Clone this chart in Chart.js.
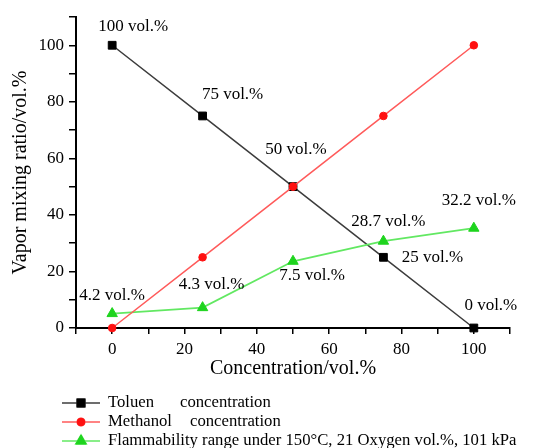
<!DOCTYPE html>
<html>
<head>
<meta charset="utf-8">
<title>Vapor mixing ratio</title>
<script src="https://cdn.jsdelivr.net/npm/chart.js@4.4.1/dist/chart.umd.min.js"></script>
<style>
    html, body { margin: 0; padding: 0; background: #fff; }
    #wrap { width: 541px; height: 448px; }
</style>
</head>
<body>
<div id="wrap"><canvas id="chart" width="541" height="448"></canvas></div>
<script>
(function () {
    'use strict';

    // values
    var concentration = [0, 25, 50, 75, 100];
    var toluene = [100, 75, 50, 25, 0];
    var methanol = [0, 25, 50, 75, 100];
    var flammability = [5.1, 7.2, 23.6, 30.7, 35.3];

    var tolueneLabels = ['100 vol.%', '75 vol.%', '50 vol.%', '25 vol.%', '0 vol.%'];
    var flammabilityLabels = ['4.2 vol.%', '4.3 vol.%', '7.5 vol.%', '28.7 vol.%', '32.2 vol.%'];

    var seriesNames = [
        ['Toluen', 'concentration'],
        ['Methanol', 'concentration'],
        ['Flammability range under 150\u00b0C, 21 Oxygen vol.%, 101 kPa']
    ];

    var serif = "'Liberation Serif', 'Times New Roman', serif";

    // pixel offsets of the value labels from their points
    var tolueneLabelOffsets = [[21, -19], [30, -21], [3, -37], [49, 0], [17, -22]];
    var flammabilityLabelOffsets = [[0, -18], [9, -23], [19, 14], [5, -20], [5, -28]];

    function toPoints(xs, ys) {
        return xs.map(function (x, i) {
            return { x: x, y: ys[i] };
        });
    }

    var valueLabelPlugin = {
        id: 'valueLabels',
        afterDatasetsDraw: function (chart) {
            var ctx = chart.ctx;
            var xScale = chart.scales.x;
            var yScale = chart.scales.y;
            ctx.save();
            ctx.font = '17px ' + serif;
            ctx.fillStyle = '#000';
            ctx.textAlign = 'center';
            ctx.textBaseline = 'middle';
            concentration.forEach(function (c, i) {
                var px = xScale.getPixelForValue(c);
                ctx.fillText(tolueneLabels[i],
                    px + tolueneLabelOffsets[i][0],
                    yScale.getPixelForValue(toluene[i]) + tolueneLabelOffsets[i][1]);
                ctx.fillText(flammabilityLabels[i],
                    px + flammabilityLabelOffsets[i][0],
                    yScale.getPixelForValue(flammability[i]) + flammabilityLabelOffsets[i][1]);
            });
            ctx.restore();
        }
    };

    var legendPlugin = {
        id: 'bottomLegend',
        afterDraw: function (chart) {
            var ctx = chart.ctx;
            ctx.save();
            ctx.font = '16.7px ' + serif;
            ctx.textBaseline = 'middle';
            ctx.textAlign = 'left';
            chart.data.datasets.forEach(function (ds, i) {
                var y = 403 + i * 19;
                ctx.strokeStyle = ds.borderColor;
                ctx.lineWidth = 1.6;
                ctx.beginPath();
                ctx.moveTo(62, y);
                ctx.lineTo(100, y);
                ctx.stroke();
                Chart.helpers.drawPoint(ctx, {
                    pointStyle: ds.pointStyle,
                    radius: ds.pointRadius,
                    rotation: 0,
                    borderWidth: 1
                }, 81, y);
                ctx.fillStyle = ds.pointBackgroundColor;
                ctx.strokeStyle = ds.pointBorderColor;
                ctx.lineWidth = 1;
                ctx.fill();
                ctx.stroke();
                ctx.fillStyle = '#000';
                var parts = seriesNames[i];
                ctx.fillText(parts[0], 108, y);
                if (parts[1]) {
                    ctx.fillText(parts[1], i === 0 ? 180 : 190, y);
                }
            });
            ctx.restore();
        }
    };

    new Chart(document.getElementById('chart'), {
        type: 'line',
        data: {
            datasets: [{
                label: seriesNames[0].join(' '),
                data: toPoints(concentration, toluene),
                order: 2,
                borderColor: '#3c3c3c',
                borderWidth: 1.5,
                pointStyle: 'rect',
                pointRadius: 5.5,
                pointBackgroundColor: '#000',
                pointBorderColor: '#000',
                pointBorderWidth: 1
            }, {
                label: seriesNames[1].join(' '),
                data: toPoints(concentration, methanol),
                order: 0,
                borderColor: '#ff5a5a',
                borderWidth: 1.5,
                pointStyle: 'circle',
                pointRadius: 3.8,
                pointBackgroundColor: '#ff1010',
                pointBorderColor: '#ff1010',
                pointBorderWidth: 1
            }, {
                label: seriesNames[2][0],
                data: toPoints(concentration, flammability),
                order: 1,
                borderColor: '#62e862',
                borderWidth: 1.8,
                pointStyle: 'triangle',
                pointRadius: 6,
                pointBackgroundColor: '#1ed41e',
                pointBorderColor: '#1ed41e',
                pointBorderWidth: 1
            }]
        },
        options: {
            responsive: false,
            devicePixelRatio: 1,
            animation: false,
            clip: false,
            layout: {
                padding: { top: 17, right: 31, bottom: 67, left: 0 }
            },
            plugins: {
                legend: { display: false },
                tooltip: { enabled: false }
            },
            scales: {
                x: {
                    type: 'linear',
                    min: -10,
                    max: 110,
                    afterFit: function (scale) {
                        scale.height = 53;
                    },
                    border: { display: true, color: '#000', width: 2 },
                    grid: {
                        display: true,
                        drawOnChartArea: false,
                        drawTicks: true,
                        tickLength: 6,
                        color: '#000',
                        lineWidth: 1.5
                    },
                    ticks: {
                        stepSize: 10,
                        autoSkip: false,
                        maxRotation: 0,
                        padding: 5,
                        color: '#000',
                        font: { family: serif, size: 17 },
                        callback: function (v) {
                            return (v >= 0 && v <= 100 && v % 20 === 0) ? String(v) : '';
                        }
                    },
                    title: {
                        display: true,
                        text: 'Concentration/vol.%',
                        color: '#000',
                        font: { family: serif, size: 20 },
                        padding: { top: 0, bottom: 0 }
                    }
                },
                y: {
                    type: 'linear',
                    min: 0,
                    max: 110,
                    afterFit: function (scale) {
                        scale.width = 76;
                    },
                    border: { display: true, color: '#000', width: 2 },
                    grid: {
                        display: true,
                        drawOnChartArea: false,
                        drawTicks: true,
                        tickLength: 7,
                        color: '#000',
                        lineWidth: 1.5
                    },
                    ticks: {
                        stepSize: 10,
                        autoSkip: false,
                        padding: 5,
                        color: '#000',
                        font: { family: serif, size: 17 },
                        callback: function (v) {
                            return (v <= 100 && v % 20 === 0) ? String(v) : '';
                        }
                    },
                    title: {
                        display: true,
                        text: 'Vapor mixing ratio/vol.%',
                        color: '#000',
                        font: { family: serif, size: 20 },
                        padding: { top: 9, bottom: 0 }
                    }
                }
            }
        },
        plugins: [valueLabelPlugin, legendPlugin]
    });
})();
</script>
</body>
</html>
